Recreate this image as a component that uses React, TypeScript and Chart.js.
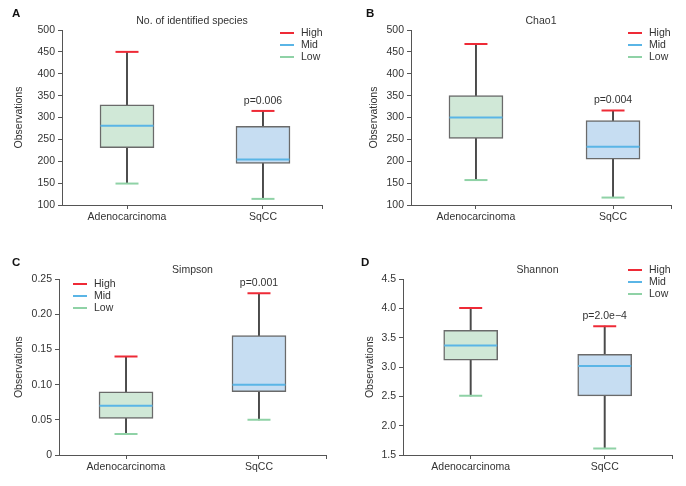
import React, { useEffect, useRef } from 'react';
import { Chart, registerables } from 'chart.js';

Chart.register(...registerables);

// ---------- data ----------
const categories = ['Adenocarcinoma', 'SqCC'];
const seriesNames = ['High', 'Mid', 'Low'];

const speciesLow = [149, 114];
const speciesQ1 = [231, 195];
const speciesMid = [281, 204];
const speciesQ3 = [329, 280];
const speciesHigh = [450, 315];

const chaoLow = [157, 117];
const chaoQ1 = [252, 205];
const chaoMid = [300, 233];
const chaoQ3 = [350, 293];
const chaoHigh = [468, 316];

const simpsonLow = [0.03, 0.05];
const simpsonQ1 = [0.052, 0.09];
const simpsonMid = [0.07, 0.1];
const simpsonQ3 = [0.09, 0.17];
const simpsonHigh = [0.14, 0.23];

const shannonLow = [2.51, 1.61];
const shannonQ1 = [3.12, 2.51];
const shannonMid = [3.37, 3.02];
const shannonQ3 = [3.63, 3.22];
const shannonHigh = [4.01, 3.7];

const panelLetters = ['A', 'B', 'C', 'D'];
const panelTitles = ['No. of identified species', 'Chao1', 'Simpson', 'Shannon'];
const pValues = ['p=0.006', 'p=0.004', 'p=0.001', 'p=2.0e\u22124'];
const yAxisTitle = 'Observations';

// ---------- styles ----------
const FONT = '"Liberation Sans", Arial, Helvetica, sans-serif';
const FS = 10.5;
const TEXT = '#333333';
const AXIS = '#555555';
const HIGH_COLOR = '#ee2a36';
const MID_COLOR = '#5ab5e6';
const LOW_COLOR = '#8fd2a6';
const BOX_FILLS = ['#d0e8d7', '#c6ddf2'];
const BOX_BORDER = '#6a6a6a';
const seriesColors = [HIGH_COLOR, MID_COLOR, LOW_COLOR];

type Panel = {
  low: number[]; q1: number[]; mid: number[]; q3: number[]; high: number[];
  yMin: number; yMax: number; yStep: number; fmt: (v: number) => string;
  px: number; py: number; w: number; h: number;
  left: number; right: number; top: number; bottom: number; titleX: number;
  xMin: number; xMax: number;
  legendX: number; legendY: number; letterX: number; letterY: number;
};

const panels: Panel[] = [
  {
    low: speciesLow, q1: speciesQ1, mid: speciesMid, q3: speciesQ3, high: speciesHigh,
    yMin: 100, yMax: 500, yStep: 50, fmt: (v) => String(Math.round(v)),
    px: 0, py: 0, w: 343, h: 225, left: 62, right: 322, top: 30, bottom: 205, titleX: 19,
    xMin: -0.478, xMax: 1.434, legendX: 280, legendY: 33, letterX: 12, letterY: 14,
  },
  {
    low: chaoLow, q1: chaoQ1, mid: chaoMid, q3: chaoQ3, high: chaoHigh,
    yMin: 100, yMax: 500, yStep: 50, fmt: (v) => String(Math.round(v)),
    px: 343, py: 0, w: 343, h: 225, left: 68, right: 328, top: 30, bottom: 205, titleX: 31,
    xMin: -0.474, xMax: 1.423, legendX: 285, legendY: 33, letterX: 23, letterY: 14,
  },
  {
    low: simpsonLow, q1: simpsonQ1, mid: simpsonMid, q3: simpsonQ3, high: simpsonHigh,
    yMin: 0, yMax: 0.25, yStep: 0.05, fmt: (v) => (Math.abs(v) < 1e-9 ? '0' : v.toFixed(2)),
    px: 0, py: 225, w: 343, h: 261, left: 59, right: 326, top: 54.3, bottom: 230, titleX: 19,
    xMin: -0.504, xMax: 1.504, legendX: 73, legendY: 59, letterX: 12, letterY: 38,
  },
  {
    low: shannonLow, q1: shannonQ1, mid: shannonMid, q3: shannonQ3, high: shannonHigh,
    yMin: 1.5, yMax: 4.5, yStep: 0.5, fmt: (v) => v.toFixed(1),
    px: 343, py: 225, w: 343, h: 261, left: 60, right: 329, top: 54.3, bottom: 230, titleX: 27,
    xMin: -0.505, xMax: 1.502, legendX: 285, legendY: 45, letterX: 18, letterY: 38,
  },
];

function PanelChart({ p, index }: { p: Panel; index: number }) {
  const ref = useRef<HTMLCanvasElement>(null);

  useEffect(() => {
    if (!ref.current) return;
    const padL = p.titleX - (FS * 1.2) / 2;

    const annotate = {
      id: 'annotate' + index,
      afterDraw(chart: any) {
        const ctx = chart.ctx as CanvasRenderingContext2D;
        const area = chart.chartArea;
        const xs = chart.scales.x;
        const ys = chart.scales.y;
        ctx.save();
        // panel letter
        ctx.fillStyle = '#111';
        ctx.font = `bold 11.5px ${FONT}`;
        ctx.textAlign = 'left';
        ctx.textBaseline = 'middle';
        ctx.fillText(panelLetters[index], p.letterX, p.letterY);
        // title
        ctx.fillStyle = TEXT;
        ctx.font = `${FS}px ${FONT}`;
        ctx.textAlign = 'center';
        ctx.fillText(panelTitles[index], (area.left + area.right) / 2, area.top - 9);
        // p-value above SqCC
        ctx.fillText(pValues[index], xs.getPixelForValue(1), ys.getPixelForValue(p.high[1]) - 10);
        // legend
        seriesNames.forEach((name, k) => {
          const y = p.legendY + k * 12;
          ctx.strokeStyle = seriesColors[k];
          ctx.lineWidth = 2;
          ctx.beginPath();
          ctx.moveTo(p.legendX, y);
          ctx.lineTo(p.legendX + 14, y);
          ctx.stroke();
          ctx.fillStyle = TEXT;
          ctx.textAlign = 'left';
          ctx.fillText(name, p.legendX + 21, y);
        });
        ctx.restore();
      },
    };

    const pts = (arr: number[]) => arr.map((v, i) => ({ x: i, y: v }));
    const capSet = (label: string, arr: number[], color: string, radius: number) => ({
      type: 'line',
      label,
      data: pts(arr),
      showLine: false,
      pointStyle: 'line',
      pointRadius: radius,
      pointHoverRadius: radius,
      pointBorderWidth: 2,
      pointBorderColor: color,
      pointBackgroundColor: color,
      borderColor: color,
      order: 1,
    });

    const chart = new Chart(ref.current, {
      type: 'bar',
      data: {
        datasets: [
          {
            type: 'bar',
            label: 'whisker',
            data: categories.map((_, i) => ({ x: i, y: [p.low[i], p.high[i]] })),
            backgroundColor: '#4a4a4a',
            borderWidth: 0,
            barThickness: 1.3,
            grouped: false,
            order: 3,
          },
          {
            type: 'bar',
            label: 'box',
            data: categories.map((_, i) => ({ x: i, y: [p.q1[i], p.q3[i]] })),
            backgroundColor: BOX_FILLS,
            borderColor: BOX_BORDER,
            borderWidth: 1.5,
            borderSkipped: false,
            barThickness: 54,
            grouped: false,
            order: 2,
          },
          capSet(seriesNames[0], p.high, HIGH_COLOR, 11.5),
          capSet(seriesNames[1], p.mid, MID_COLOR, 26.5),
          capSet(seriesNames[2], p.low, LOW_COLOR, 11.5),
        ] as any,
      },
      options: {
        responsive: false,
        animation: false,
        events: [],
        layout: { autoPadding: false, padding: { left: padL, top: p.top, right: p.w - p.right, bottom: 0 } },
        plugins: {
          legend: { display: false },
          tooltip: { enabled: false },
          title: { display: false },
        },
        scales: {
          x: {
            type: 'linear',
            min: p.xMin,
            max: p.xMax,
            offset: false,
            afterFit: (s: any) => { s.height = p.h - p.bottom; },
            afterBuildTicks: (s: any) => {
              s.ticks = [...categories.map((_, i) => ({ value: i })), { value: p.xMax }];
            },
            ticks: {
              callback: (v: any) => (Number.isInteger(v) ? categories[v] ?? '' : ''),
              font: { family: FONT, size: FS },
              color: TEXT,
              padding: 2,
              maxRotation: 0,
              autoSkip: false,
            },
            grid: { display: true, drawOnChartArea: false, drawTicks: true, tickLength: 4, color: AXIS, lineWidth: 1, offset: false },
            border: { display: true, color: AXIS, width: 1 },
          },
          y: {
            type: 'linear',
            min: p.yMin,
            max: p.yMax,
            afterFit: (s: any) => { s.width = p.left - padL; },
            ticks: {
              stepSize: p.yStep,
              callback: (v: any) => p.fmt(Number(v)),
              font: { family: FONT, size: FS },
              color: TEXT,
              padding: 3,
            },
            title: {
              display: true,
              text: yAxisTitle,
              font: { family: FONT, size: FS },
              color: TEXT,
              padding: { top: 0, bottom: 0 },
            },
            grid: { display: true, drawOnChartArea: false, drawTicks: true, tickLength: 4, color: AXIS, lineWidth: 1 },
            border: { display: true, color: AXIS, width: 1 },
          },
        },
      } as any,
      plugins: [annotate],
    });
    return () => chart.destroy();
  }, [p, index]);

  return (
    <canvas
      ref={ref}
      width={p.w}
      height={p.h}
      style={{ position: 'absolute', left: p.px, top: p.py, width: p.w, height: p.h }}
    />
  );
}

export default function App() {
  return (
    <div style={{ position: 'absolute', left: 0, top: 0, width: 686, height: 486, background: '#ffffff', overflow: 'hidden' }}>
      {panels.map((p, i) => (
        <PanelChart key={i} p={p} index={i} />
      ))}
    </div>
  );
}
